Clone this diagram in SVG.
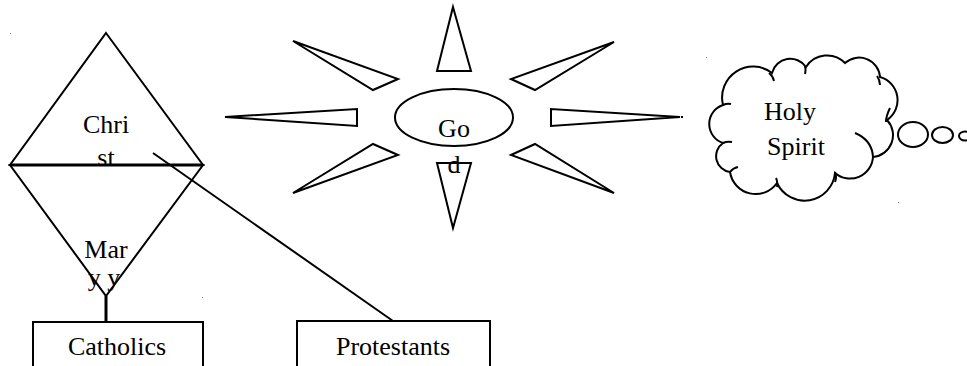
<svg xmlns="http://www.w3.org/2000/svg" width="967" height="366" viewBox="0 0 967 366">
<style>
.s{fill:none;stroke:#000;stroke-width:2;stroke-linejoin:miter}
.t{font-family:'Liberation Serif','DejaVu Serif',serif;font-size:26px;fill:#000;text-anchor:middle}
.dot{fill:#888}
</style>
<rect width="967" height="366" fill="#fff"/>
<g id="connectors">
<line x1="153" y1="153" x2="393" y2="321" stroke="#000" stroke-width="2"/>
<line x1="106" y1="296" x2="106" y2="322" stroke="#000" stroke-width="3"/>
</g>
<g id="christ">
<polygon class="s" points="106,33 203,165 10,165"/>
<text class="t" font-family="Liberation Serif" x="106" y="133">Chri</text>
<text class="t" font-family="Liberation Serif" x="106" y="166">st</text>
</g>
<g id="mary">
<polygon class="s" points="10,165 203,165 106,296"/>
<text class="t" font-family="Liberation Serif" x="106" y="258">Mar</text>
<text class="t" font-family="Liberation Serif" x="104" y="286">y y</text>
<line x1="10" y1="165" x2="203" y2="165" stroke="#000" stroke-width="3"/>
</g>
<g id="catholics">
<rect class="s" x="33" y="322" width="170" height="60"/>
<text class="t" font-family="Liberation Serif" x="117" y="355">Catholics</text>
</g>
<g id="protestants">
<rect class="s" x="297" y="321" width="193" height="60"/>
<text class="t" font-family="Liberation Serif" x="393" y="355">Protestants</text>
</g>
<g id="god">
<polygon class="s" points="453,7 471,71 437,71"/>
<polygon class="s" points="437,163 471,163 453,228"/>
<polygon class="s" points="225,117 357,109 357,126"/>
<polygon class="s" points="680,117 551,109 551,126"/>
<polygon class="s" points="293,41 398,79 373,90"/>
<polygon class="s" points="293,193 398,155 373,144"/>
<polygon class="s" points="614,42 511,79 535,90"/>
<polygon class="s" points="614,193 511,155 535,144"/>
<ellipse class="s" cx="454" cy="117.5" rx="59" ry="28.5"/>
<text class="t" font-family="Liberation Serif" x="454" y="137" font-size="29">Go</text>
<text class="t" font-family="Liberation Serif" x="454" y="173" font-size="29">d</text>
</g>
<g id="holy-spirit">
<path class="s" d="M723 105 A31 31 0 0 1 772 73 A19 19 0 0 1 806 67 A25 25 0 0 1 845 63 A21 21 0 0 1 880 77 A24 24 0 0 1 887 120 A22 22 0 0 1 873 157 A23 23 0 0 1 835 173 A30.5 30.5 0 0 1 777 183 A26 26 0 0 1 730 172 A16 16 0 0 1 723 143 A20 20 0 0 1 723 105 Z"/>
<path class="s" d="M769 73 Q773 76 774 81 M805 66 Q806 70 805 74 M877 76 Q880 80 880 85 M890 108 Q886 116 886 122 M855 133 Q872 140 873 157 M835 172 Q837 177 835 182 M776 178 Q778 182 777 187 M730 172 Q733 168 738 167 M723 143 Q727 141 732 142 M723 105 Q727 103 731 104"/>
<ellipse class="s" cx="913" cy="134.5" rx="15" ry="12.5"/>
<ellipse class="s" cx="942.5" cy="135" rx="10.5" ry="8"/>
<ellipse class="s" cx="965" cy="136" rx="6" ry="4.5"/>
<text class="t" font-family="Liberation Serif" x="790" y="120" font-size="28">Holy</text>
<text class="t" font-family="Liberation Serif" x="796" y="155" font-size="28">Spirit</text>
</g>
<rect class="dot" x="10" y="33" width="1" height="1"/>
<rect class="dot" x="202" y="297" width="1" height="1"/>
<rect class="dot" x="706" y="57" width="1" height="1"/>
<rect x="681" y="116" width="2" height="2" fill="#000"/>
<rect class="dot" x="898" y="202" width="1" height="1"/>
</svg>
